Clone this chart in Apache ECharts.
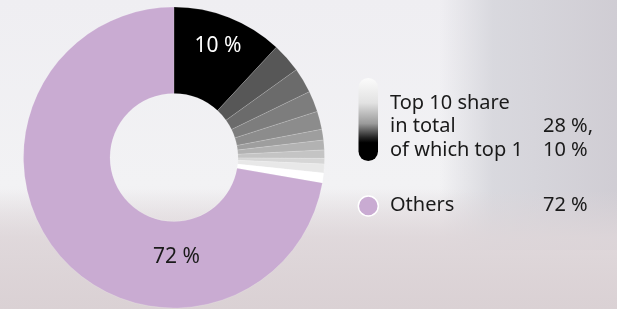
<!DOCTYPE html>
<html>
<head>
<meta charset="utf-8">
<script src="https://cdn.jsdelivr.net/npm/echarts@6/dist/echarts.min.js"></script>
<style>
  html, body { margin: 0; padding: 0; }
  #main { width: 617px; height: 309px; }
</style>
</head>
<body>
<div id="main"></div>
<script>
// slices, clockwise from 12 o'clock (shares in %)
var topNames = ['Top 1', 'Top 2', 'Top 3', 'Top 4', 'Top 5', 'Top 6', 'Top 7', 'Top 8', 'Top 9', 'Top 10'];
var topValues = [11.9, 3.2, 2.7, 2.25, 1.95, 1.15, 1.05, 0.9, 0.6, 0.95];
var gapValue = 1.05;
var othersName = 'Others';
var othersValue = 72.3;

// texts shown on the chart
var top1Label = '10 %';
var othersLabel = '72 %';
var legendLines = ['Top 10 share', 'in total', 'of which top 1'];
var legendShares = ['28 %,', '10 %'];
var othersShare = '72 %';

var grays = ['#000000', '#575757', '#6b6b6b', '#7d7d7d', '#8c8c8c', '#9e9e9e', '#b2b2b2', '#c4c4c4', '#d6d6d6', '#e8e8e8'];
var lilac = '#c9abd2';
var font = '"Noto Sans", "DejaVu Sans", sans-serif';

var cx = 174, cy = 157.5;

var myChart = echarts.init(document.getElementById('main'));

var data = [];
topValues.forEach(function (v, i) {
	data.push({
		name: topNames[i],
		value: v,
		itemStyle: { color: grays[i] },
		label: i === 0 ? { show: true, color: '#ffffff', formatter: top1Label } : { show: false }
	});
});
data.push({ name: 'gap', value: gapValue, itemStyle: { color: '#ffffff' }, label: { show: false } });
data.push({
	name: othersName,
	value: othersValue,
	itemStyle: { color: lilac },
	label: { show: true, color: '#1a1a1a', formatter: othersLabel }
});

function txt(x, y, s, size) {
	return {
		type: 'text', x: x, y: y, z: 10,
		style: { text: s, fill: '#1a1a1a', font: size + 'px ' + font, verticalAlign: 'middle', align: 'left' }
	};
}

var legendX = 390, shareX = 543, lineTop = 103, lineH = 23.7;
var graphics = [
	// blurred photo backdrop
	{ type: 'rect', z: -5, shape: { x: 440, y: 0, width: 177, height: 250 },
	  style: { fill: new echarts.graphic.LinearGradient(0, 0, 1, 0, [
		{ offset: 0, color: 'rgba(214,214,220,0)' },
		{ offset: 0.3, color: 'rgba(214,214,220,0.9)' },
		{ offset: 1, color: 'rgba(206,203,210,0.95)' }]) } },
	{ type: 'rect', z: -3, shape: { x: 0, y: 190, width: 617, height: 119 },
	  style: { fill: new echarts.graphic.LinearGradient(0, 0, 0, 1, [
		{ offset: 0, color: 'rgba(222,214,217,0)' },
		{ offset: 0.4, color: 'rgba(222,214,217,0.85)' },
		{ offset: 1, color: 'rgba(218,209,212,1)' }]) } },
	// legend keys
	{ type: 'rect', z: 10, shape: { x: 358.5, y: 78, width: 19.5, height: 83, r: 9.75 },
	  style: { fill: new echarts.graphic.LinearGradient(0, 0, 0, 1, [
		{ offset: 0, color: '#fbfbfb' },
		{ offset: 0.3, color: '#e2e2e2' },
		{ offset: 0.55, color: '#9a9a9a' },
		{ offset: 0.72, color: '#222222' },
		{ offset: 0.78, color: '#000000' },
		{ offset: 1, color: '#000000' }]) } },
	{ type: 'circle', z: 10, shape: { cx: 368.3, cy: 206, r: 10 },
	  style: { fill: lilac, stroke: '#ffffff', lineWidth: 1.5 } }
];
legendLines.forEach(function (s, i) { graphics.push(txt(legendX, lineTop + i * lineH, s, 20)); });
legendShares.forEach(function (s, i) { graphics.push(txt(shareX, lineTop + (i + 1) * lineH, s, 20)); });
graphics.push(txt(legendX, 205, othersName, 20));
graphics.push(txt(shareX, 205, othersShare, 20));

var option = {
	backgroundColor: new echarts.graphic.LinearGradient(0, 0, 0, 1, [
		{ offset: 0, color: '#efeef2' },
		{ offset: 0.6, color: '#f2f2f4' },
		{ offset: 1, color: '#ddd5d8' }]),
	animation: false,
	graphic: graphics,
	series: [{
		type: 'pie',
		center: [cx, cy],
		radius: [64, 150.5],
		startAngle: 90,
		clockwise: true,
		avoidLabelOverlap: false,
		silent: true,
		itemStyle: { borderWidth: 0.4, borderColor: 'rgba(255,255,255,0.35)' },
		label: { position: 'inside', fontFamily: font, fontSize: 21 },
		labelLine: { show: false },
		labelLayout: function (params) {
			if (params.dataIndex === 0) return { x: cx + 44, y: cy - 111.5 };
			if (params.dataIndex === data.length - 1) return { x: cx + 2.5, y: cy + 100 };
			return {};
		},
		data: data
	}]
};

myChart.setOption(option);
</script>
</body>
</html>
